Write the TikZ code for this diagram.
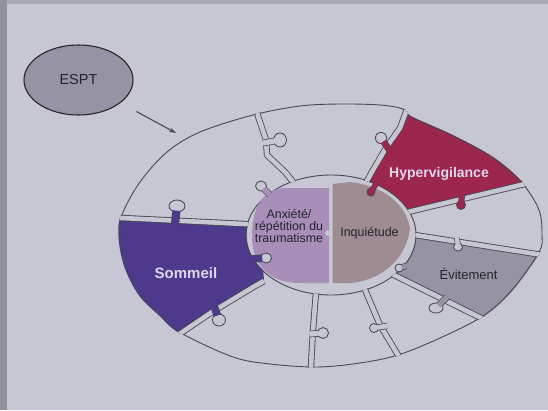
\documentclass[tikz,border=0pt]{standalone}
\usepackage{fontspec}
\setmainfont{Liberation Sans}
\usetikzlibrary{shapes.geometric,arrows.meta,calc}

\definecolor{page}{RGB}{198,199,211}
\definecolor{pagedark}{RGB}{143,144,152}
\definecolor{ink}{RGB}{72,72,84}
\definecolor{sommeil}{RGB}{78,58,140}
\definecolor{hyper}{RGB}{156,38,78}
\definecolor{evit}{RGB}{150,148,163}
\definecolor{anx}{RGB}{168,142,184}
\definecolor{inq}{RGB}{158,140,146}
\definecolor{esptfill}{RGB}{150,148,164}
\definecolor{lighttext}{RGB}{220,216,234}
\definecolor{darktext}{RGB}{35,35,45}

% outer rim of the ring of puzzle pieces
\newcommand\ringouter{plot[smooth cycle, tension=0.55] coordinates {(120,240) (122,215) (140,182) (167,152) (200,132) (253,115) (300,106) (340,104) (380,105) (403,109) (411,117) (453,136) (493,158) (522,183) (539,210) (542,235) (539,252) (512,290) (483,316) (440,338) (398,355) (360,363) (317,367) (270,364) (233,357) (181,333) (160,315) (140,295) (126,268)}}

% jigsaw tab: base, head centre, head x/y radius, stem colour, head colour, stem width
\newcommand\knob[7]{%
  \draw[draw=ink, line width=0.85pt, double=#5, double distance=#7pt] #1 -- #2;
  \filldraw[draw=ink, line width=0.85pt, fill=#6] #2 ellipse [x radius=#3pt, y radius=#4pt];
  \draw[#5, line width=#7pt] #1 -- ($#2!{(min(#3,#4)-1.3)*1pt}!#1$);
}

\begin{document}
\begin{tikzpicture}[x=1pt,y=-1pt,
  outline/.style={draw=ink, line width=0.9pt},
  cutline/.style={draw=ink, line width=0.85pt, double=page, double distance=4.6pt, line join=round},
  lbl/.style={inner sep=0pt, anchor=base, text=darktext},
]
\useasboundingbox (0,0) rectangle (548,410);
\fill[page] (0,0) rectangle (548,410);
\fill[pagedark] (0,0) rectangle (7,410);
\fill[pagedark!55!page] (7,0) rectangle (548,4);

% coloured pieces of the ring
\begin{scope}
  \clip[scale around={1.006:(331,236)}] \ringouter;
  \begin{scope}[even odd rule]
  \clip (0,0) rectangle (548,410) (331,235) ellipse [x radius=84.4pt, y radius=59.4pt];
  \fill[sommeil] (264,281) -- (255,286) -- (212,312) -- (181,333) -- (172,339) -- (90,380) -- (60,217) -- (110,217.5) -- (122,218) -- (245,224) -- (260,225) -- cycle;
  \fill[hyper] (410,100) -- (406,112) -- (400,128) -- (386,148) -- (373,170) -- (362,190) -- (400,214) -- (412,211) -- (525,184) -- (538,181) -- (580,150) -- (430,60) -- cycle;
  \fill[evit] (548,256) -- (536,254) -- (415,235) -- (400,233) -- (388,272) -- (400,278) -- (481,318) -- (492,323) -- (560,360) -- (580,256) -- cycle;
  \end{scope}
\end{scope}

% rims of the ring
\draw[outline] \ringouter;
\draw[outline] (331,235) ellipse [x radius=85pt, y radius=60pt];

% cuts between the pieces
\begin{scope}
  \clip[scale around={1.006:(331,236)}] \ringouter;
  \begin{scope}[even odd rule]
  \clip (0,0) rectangle (548,410) (331,235) ellipse [x radius=84.4pt, y radius=59.4pt];
  \begin{scope}[nonzero rule]
  \draw[cutline] (110,217.5) -- (122,218) -- (245,224) -- (260,225);
  \draw[cutline] (256,100) -- (258,116) -- (266,140) -- (267,155) -- (285,172) -- (298,188);
  \draw[cutline] (410,100) -- (406,112) -- (400,128) -- (386,148) -- (373,170) -- (362,190);
  \draw[cutline] (538,181) -- (525,184) -- (412,211) -- (400,214);
  \draw[cutline] (548,256) -- (536,254) -- (415,235) -- (400,233);
  \draw[cutline] (492,323) -- (481,318) -- (400,278) -- (388,272);
  \draw[cutline] (360,278) -- (363,285) -- (380,325) -- (398,355) -- (402,366);
  \draw[cutline] (317,282) -- (316,292) -- (313,330) -- (311,366) -- (311,375);
  \draw[cutline] (172,339) -- (181,333) -- (212,312) -- (255,286) -- (264,281);
  \end{scope}
  \end{scope}
\end{scope}

% centre pieces
\fill[anx] (329,188) -- (285,188) .. controls (262,189) and (252,208) .. (252,236) .. controls (252,262) and (266,283) .. (300,283) -- (329,283) -- cycle;
\fill[inq] (332.5,184) -- (350,182) .. controls (385,186) and (406,205) .. (410,228) .. controls (407,256) and (385,280) .. (350,283) -- (332.5,283) -- cycle;
\fill[page] (328,233) circle (2.8pt);

% tabs
\knob{(175,224)}{(177,206)}{8}{6}{sommeil}{page}{6.5}
\knob{(263,143)}{(280,140)}{6.5}{7}{page}{page}{5}
\knob{(270,195)}{(261,186)}{5.5}{5}{anx}{page}{5}
\knob{(390,151)}{(381,138)}{6}{5.5}{hyper}{page}{5}
\knob{(378,181)}{(371,192)}{4}{4}{hyper}{hyper}{4}
\knob{(462,195)}{(461,205)}{4.5}{4.5}{hyper}{hyper}{4.5}
\knob{(457,238)}{(458,247)}{4.5}{4}{page}{page}{4}
\knob{(447,297)}{(436,308)}{7}{5}{evit}{page}{5}
\knob{(387,326)}{(374,328)}{4.5}{4.5}{page}{page}{4.5}
\knob{(309.5,334)}{(323,333)}{5.5}{5.5}{page}{page}{5}
\knob{(214,306)}{(219,320)}{6.5}{6}{sommeil}{page}{6}
\knob{(251,259)}{(266,258)}{5.5}{5}{sommeil}{page}{6}
\knob{(406,266)}{(399,268)}{4}{4}{evit}{page}{4.5}

% labels
\node[lbl, font=\bfseries\fontsize{14}{14}\selectfont, text=lighttext] (hyperlabel) at (439,177) {Hypervigilance};
\node[lbl, font=\bfseries\fontsize{15}{15}\selectfont, text=lighttext] (sommeillabel) at (186,278) {Sommeil};
\node[lbl, font=\fontsize{13}{13}\selectfont] (evitlabel) at (468.5,279) {Évitement};
\node[lbl, font=\fontsize{12.5}{13}\selectfont] (inqlabel) at (369.5,236) {Inquiétude};
\node[inner sep=0pt, align=center, text=darktext, font=\fontsize{12.4}{11.8}\selectfont] (anxlabel) at (289,226) {Anxiété/\\répétition du\\traumatisme};

% ESPT and its arrow
\node[ellipse, draw=black!85, line width=1.1pt, fill=esptfill, minimum width=109pt, minimum height=70pt, inner sep=0pt, text=darktext, font=\fontsize{14.5}{15}\selectfont] (espt) at (78.5,80) {ESPT};
\coordinate (ringentry) at (176,133);
\draw[draw=ink, line width=1.1pt, -{Stealth[length=7pt,width=4.5pt]}, shorten <=18pt] (espt) -- (ringentry);
\end{tikzpicture}
\end{document}
